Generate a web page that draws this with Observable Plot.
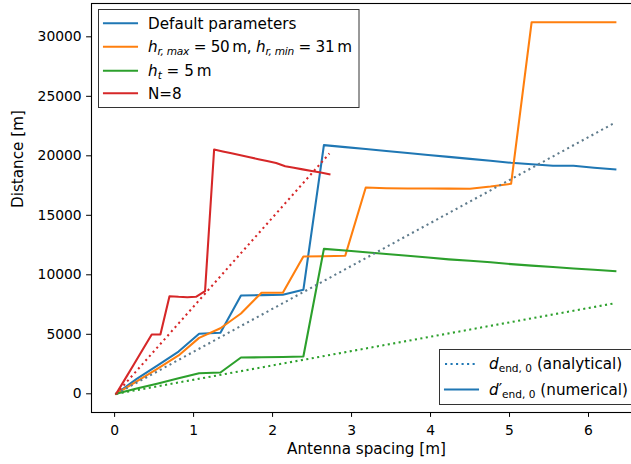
<!DOCTYPE html>
<html>
<head>
<meta charset="utf-8">
<script src="https://cdn.jsdelivr.net/npm/d3@7"></script>
<script src="https://cdn.jsdelivr.net/npm/@observablehq/plot@0.6"></script>
<style>
  html, body { margin: 0; padding: 0; overflow: hidden; background: white; }
  #chart { width: 641px; height: 464px; }
  svg text { font-family: "DejaVu Sans", sans-serif; }
</style>
</head>
<body>
<div id="chart"></div>
<script>
// ---- data ----
const xs = [0.02,0.28,0.55,0.81,1.07,1.34,1.60,1.86,2.13,2.39,2.65,2.92,3.18,3.44,3.71,3.97,4.23,4.50,4.76,5.02,5.28,5.55,5.81,6.07,6.34];
const defaultNum = [0,1250,2400,3550,5040,5130,8260,8290,8320,8740,20900,20730,20570,20400,20230,20070,19910,19740,19580,19410,19290,19160,19160,19000,18850];
const hrNum = [0,1050,2130,3220,4700,5510,6750,8490,8490,11540,11560,11600,17340,17280,17250,17250,17240,17230,17420,17650,31230,31230,31230,31230,31230];
const htNum = [0,450,870,1300,1730,1790,3050,3070,3090,3130,12180,12050,11900,11750,11600,11450,11300,11180,11050,10900,10770,10650,10530,10420,10300];
const xsN8 = [0.02,0.13,0.245,0.36,0.47,0.58,0.695,0.81,0.92,1.03,1.145,1.26,1.37,1.48,1.595,1.71,1.82,1.93,2.045,2.16,2.27,2.38,2.495,2.61,2.72];
const n8Num = [0,1210,2490,3770,4990,4990,8200,8150,8120,8150,8620,20530,20370,20210,20050,19880,19720,19560,19400,19130,18995,18860,18720,18590,18450];

const anaX = [0.02, 6.34];
const anaDefault = [0, 22800];
const anaHt = [0, 7620];
const anaN8X = [0.02, 2.72];
const anaN8 = [0, 20200];

const xTicks = [0, 1, 2, 3, 4, 5, 6];
const yTicks = [0, 5000, 10000, 15000, 20000, 25000, 30000];
const xDomain = [-0.2925, 6.671];
const yDomain = [-1571, 32800];

const C = {blue: "#1f77b4", orange: "#ff7f0e", green: "#2ca02c", red: "#d62728", slate: "#5f7b8c"};

const pts = (X, Y) => X.map((x, i) => ({x, y: Y[i]}));
const LW = 2.08;
const DASH = "2.08,3.44";
const LABEL_FS = 15.2;

const solid = (X, Y, color) => Plot.line(pts(X, Y), {x: "x", y: "y", stroke: color, strokeWidth: LW, strokeLinejoin: "round", strokeLinecap: "square"});
const dotted = (X, Y, color) => Plot.line(pts(X, Y), {x: "x", y: "y", stroke: color, strokeWidth: LW, strokeDasharray: DASH, strokeLinecap: "butt"});

const svg = Plot.plot({
  width: 641,
  height: 464,
  marginLeft: 91,
  marginRight: 0,
  marginTop: 3,
  marginBottom: 52,
  style: {fontFamily: "DejaVu Sans", fontSize: "13.89px", color: "black", background: "white", overflow: "visible"},
  x: {domain: xDomain, ticks: xTicks, tickSize: 4.9, tickPadding: 7.3, label: null, tickFormat: d3.format("d")},
  y: {domain: yDomain, ticks: yTicks, tickSize: 4.9, tickPadding: 4.9, label: null, tickFormat: d3.format("d")},
  marks: [
    Plot.frame({stroke: "black", strokeWidth: 1.1}),
    solid(xs, defaultNum, C.blue),
    solid(xs, hrNum, C.orange),
    solid(xs, htNum, C.green),
    solid(xsN8, n8Num, C.red),
    dotted(anaX, anaDefault, C.slate),
    dotted(anaX, anaHt, C.green),
    dotted(anaN8X, anaN8, C.red),
    Plot.text(["Antenna spacing [m]"], {text: d => d, frameAnchor: "bottom", dy: 31, lineAnchor: "top", fontSize: LABEL_FS, fill: "black"}),
    Plot.text(["Distance [m]"], {text: d => d, frameAnchor: "left", dx: -73.5, rotate: -90, fontSize: LABEL_FS, fill: "black"})
  ]
});

document.getElementById("chart").appendChild(svg);

// ---- legends (inside the axes, like the reference) ----
const root = d3.select(svg);
const FS = 15.2, SUB = 10.6;

function addLegend(box, rows) {
  const g = root.append("g").attr("text-anchor", "start");
  g.append("rect").attr("x", box.x).attr("y", box.y).attr("width", box.w).attr("height", box.h)
    .attr("fill", "white").attr("fill-opacity", 0.8).attr("stroke", "#333").attr("stroke-width", 1);
  rows.forEach(r => {
    const l = g.append("line").attr("x1", box.x + 5.5).attr("x2", box.x + 38.5)
      .attr("y1", r.cy).attr("y2", r.cy).attr("stroke", r.color).attr("stroke-width", LW);
    if (r.dash) l.attr("stroke-dasharray", DASH); else l.attr("stroke-linecap", "square");
    const t = g.append("text").attr("x", box.x + 49.5).attr("y", r.base).attr("text-anchor", "start")
      .attr("font-size", FS).attr("fill", "black").attr("font-family", "DejaVu Sans");
    if (r.len) t.attr("textLength", r.len).attr("lengthAdjust", "spacing");
    r.parts.forEach(p => {
      const s = t.append("tspan").text(p.t);
      if (p.i) s.attr("font-style", "italic");
      if (p.sub) s.attr("font-size", SUB).attr("dy", 3);
      if (p.up) s.attr("dy", -3);
    });
  });
}

addLegend({x: 98.5, y: 9.5, w: 260.5, h: 98}, [
  {cy: 23.3, base: 29.3, color: C.blue, parts: [{t: "Default parameters"}]},
  {cy: 46.7, base: 51.5, color: C.orange, len: 204, parts: [
    {t: "h", i: true}, {t: "r, max", i: true, sub: true}, {t: " = 50\u2009m, ", up: true},
    {t: "h", i: true}, {t: "r, min", i: true, sub: true}, {t: " = 31\u2009m", up: true}]},
  {cy: 70.7, base: 75.5, color: C.green, parts: [
    {t: "h", i: true}, {t: "t", i: true, sub: true}, {t: " = 5\u2009m", up: true}]},
  {cy: 93.3, base: 99.3, color: C.red, parts: [{t: "N=8"}]}
]);

addLegend({x: 439.5, y: 349.5, w: 195, h: 55}, [
  {cy: 364, base: 369, color: C.blue, dash: true, parts: [
    {t: "d", i: true}, {t: "end, 0", sub: true}, {t: " (analytical)", up: true}]},
  {cy: 389.5, base: 394.5, color: C.blue, parts: [
    {t: "d", i: true}, {t: "\u2032"}, {t: "end, 0", sub: true}, {t: " (numerical)", up: true}]}
]);
</script>
</body>
</html>
